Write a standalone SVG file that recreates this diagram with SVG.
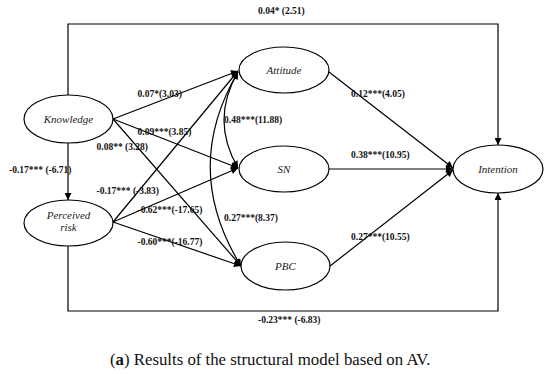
<svg xmlns="http://www.w3.org/2000/svg" width="550" height="374" viewBox="0 0 550 374">
<style>
.node ellipse{fill:#fff;stroke:#000;stroke-width:1.2}
.nl{font-family:"Liberation Serif","Times New Roman",serif;font-style:italic;font-size:11px;fill:#222;text-anchor:middle}
.el{font-family:"Liberation Serif","Times New Roman",serif;font-weight:bold;font-size:9.5px;fill:#111}
.c path,.c line,.c polyline{fill:none;stroke:#000;stroke-width:1.2}
.cap{font-family:"Liberation Serif","Times New Roman",serif;font-size:16.8px;fill:#111}
</style>
<defs>
<marker id="ah" viewBox="0 0 10 10" refX="10" refY="5" markerWidth="8" markerHeight="7" markerUnits="userSpaceOnUse" orient="auto-start-reverse">
<path d="M0,0 L10,5 L0,10 z" fill="#000"/>
</marker>
</defs>
<rect width="550" height="374" fill="#fff"/>
<g class="c" id="connectors">
<polyline points="68,95 68,24 498,24 498,145" marker-end="url(#ah)"/>
<polyline points="68,246 68,311 498,311 498,193" marker-end="url(#ah)"/>
<line x1="68" y1="143" x2="68" y2="200" marker-end="url(#ah)"/>
<line x1="113" y1="119" x2="238" y2="71" marker-end="url(#ah)"/>
<line x1="113" y1="119" x2="238" y2="168" marker-end="url(#ah)"/>
<line x1="113" y1="119" x2="241" y2="266" marker-end="url(#ah)"/>
<line x1="113" y1="222" x2="238" y2="71" marker-end="url(#ah)"/>
<line x1="113" y1="222" x2="238" y2="168" marker-end="url(#ah)"/>
<line x1="113" y1="222" x2="241" y2="266" marker-end="url(#ah)"/>
<path d="M238,72 Q210,120 238,168" marker-start="url(#ah)" marker-end="url(#ah)"/>
<path d="M238,72 Q181,169 241,266" marker-start="url(#ah)" marker-end="url(#ah)"/>
<line x1="329" y1="72" x2="453" y2="168" marker-end="url(#ah)"/>
<line x1="329" y1="169" x2="453" y2="169" marker-end="url(#ah)"/>
<line x1="330" y1="266" x2="453" y2="170" marker-end="url(#ah)"/>
</g>
<g id="knowledge" class="node"><ellipse cx="68.5" cy="119" rx="44.5" ry="24"/><text class="nl" x="68.5" y="123">Knowledge</text></g>
<g id="perceived-risk" class="node"><ellipse cx="68.5" cy="223" rx="44.5" ry="23"/><text class="nl" x="68.5" y="219">Perceived</text><text class="nl" x="68.5" y="231">risk</text></g>
<g id="attitude" class="node"><ellipse cx="284" cy="70" rx="45" ry="23"/><text class="nl" x="284" y="74">Attitude</text></g>
<g id="sn" class="node"><ellipse cx="284" cy="169" rx="45" ry="23"/><text class="nl" x="284" y="173">SN</text></g>
<g id="pbc" class="node"><ellipse cx="285.5" cy="266" rx="44.5" ry="24"/><text class="nl" x="285.5" y="270">PBC</text></g>
<g id="intention" class="node"><ellipse cx="498" cy="169" rx="45" ry="24"/><text class="nl" x="498" y="173">Intention</text></g>
<g id="labels">
<text class="el" x="258" y="14">0.04* (2.51)</text>
<text class="el" x="137.5" y="97">0.07*(3.03)</text>
<text class="el" x="137.5" y="135">0.09***(3.85)</text>
<text class="el" x="96.5" y="150">0.08** (3.28)</text>
<text class="el" x="9" y="173">-0.17*** (-6.71)</text>
<text class="el" x="224" y="123">0.48***(11.88)</text>
<text class="el" x="96.5" y="194">-0.17*** (-3.83)</text>
<text class="el" x="137.5" y="213">-0.62***(-17.65)</text>
<text class="el" x="137.5" y="245">-0.60***(-16.77)</text>
<text class="el" x="224" y="221">0.27***(8.37)</text>
<text class="el" x="258" y="323">-0.23*** (-6.83)</text>
<text class="el" x="351" y="97">0.12***(4.05)</text>
<text class="el" x="351" y="158">0.38***(10.95)</text>
<text class="el" x="351" y="240">0.27***(10.55)</text>
<text class="cap" x="110" y="365">(<tspan font-weight="bold">a</tspan>) Results of the structural model based on AV.</text>
</g>
</svg>
